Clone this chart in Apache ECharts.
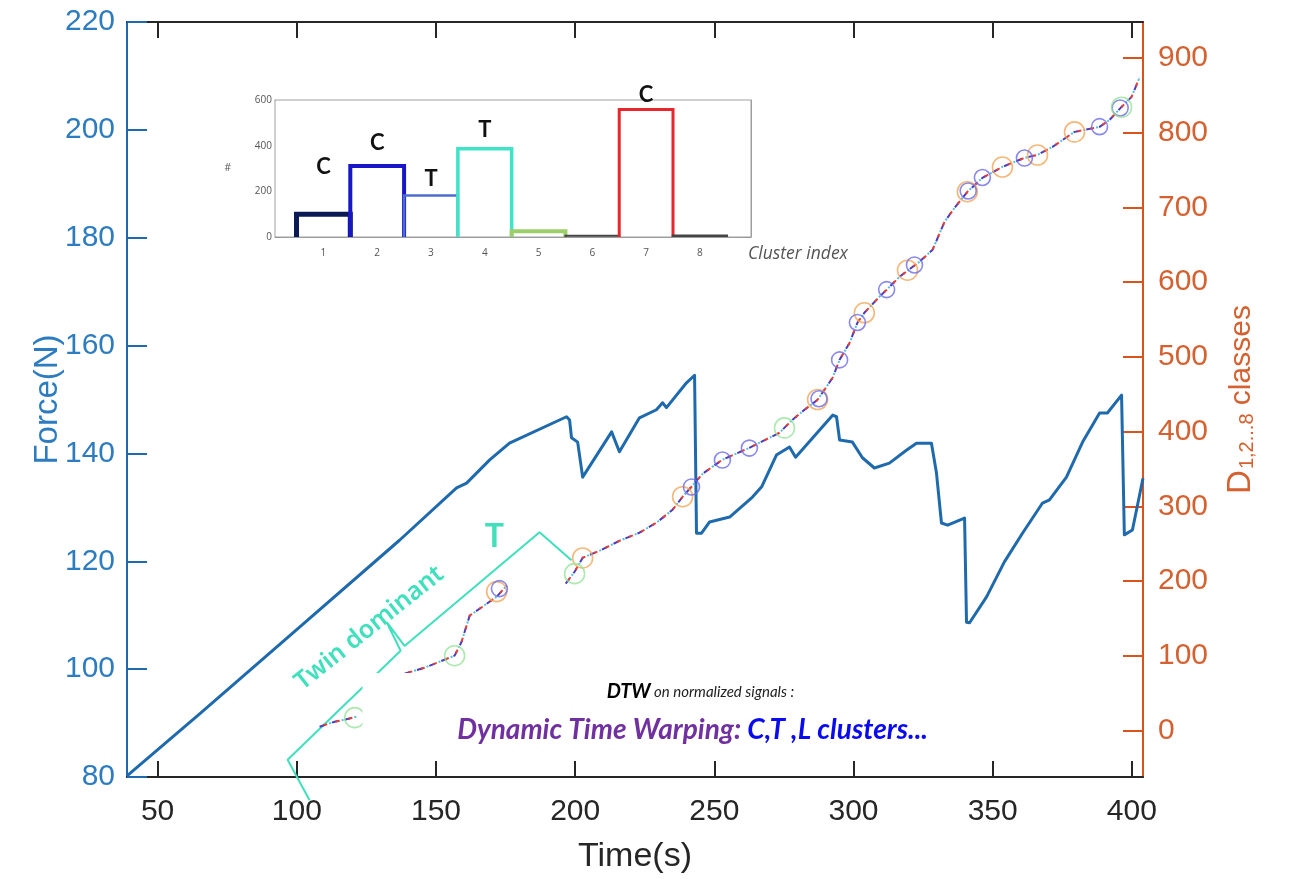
<!DOCTYPE html>
<html>
<head>
<meta charset="utf-8">
<script src="https://cdn.jsdelivr.net/npm/echarts@6/dist/echarts.min.js"></script>
<style>
  html, body { margin: 0; padding: 0; background: #fff; }
  #c { width: 1294px; height: 879px; }
</style>
</head>
<body>
<div id="c"></div>
<script>
// ---- Force trace: time (s) and force (N) ----
const forceT = [39, 65.1, 101.0, 136.9, 157.4, 161.0, 169.3, 176.4, 196.9, 198.0, 198.7, 200.9, 202.7,
  213.1, 215.9, 223.1, 229.2, 231.4, 232.8, 240.0, 242.9, 243.6, 245.4, 248.3, 255.5, 263.7, 267.0,
  272.3, 277.0, 279.2, 292.5, 293.9, 295.0, 299.6, 303.2, 307.5, 312.9, 319.0, 322.6, 328.0, 329.8,
  331.6, 333.8, 339.9, 340.6, 341.7, 347.8, 354.2, 360.7, 367.9, 370.4, 376.5, 382.3, 388.4, 391.2,
  396.3, 397.3, 400.2, 404];
const forceN = [80.2, 91.7, 107.8, 123.9, 133.6, 134.5, 138.8, 141.9, 146.8, 146.2, 142.9, 142.1, 135.6,
  144.0, 140.3, 146.6, 148.1, 149.4, 148.5, 153.1, 154.5, 125.2, 125.2, 127.3, 128.2, 131.9, 133.8,
  139.7, 141.2, 139.3, 147.1, 146.8, 142.5, 142.1, 139.2, 137.3, 138.2, 140.6, 141.9, 141.9, 136.4,
  127.1, 126.7, 128.0, 108.7, 108.6, 113.4, 119.9, 125.2, 130.8, 131.4, 135.6, 142.1, 147.5, 147.5,
  150.8, 124.9, 125.8, 135.4];

// ---- DTW class distance D, three visible pieces ----
const dSegA_T = [108.2, 113.6, 117.2, 121.5];
const dSegA_V = [5.3, 12.0, 14.7, 18.7];
const dSegB_T = [138.7, 145.9, 151.3, 156.7, 159.2, 162.1, 166.7, 171.8, 175.4];
const dSegB_V = [76.2, 84.2, 92.3, 100.3, 119.0, 153.8, 165.8, 179.2, 193.9];
const dSegC_T = [196.6, 199.8, 202.7, 208.8, 216.0, 223.1, 229.2, 235.0, 238.6, 241.8, 245.8, 252.9,
  262.6, 273.4, 278.1, 282.4, 287.1, 292.5, 295.0, 298.6, 301.4, 303.9, 309.3, 311.9, 316.5, 320.8,
  323.7, 328.4, 332.7, 336.3, 340.9, 346.3, 353.5, 361.4, 366.1, 371.5, 379.4, 388.4, 392.0, 396.3,
  399.9, 402.7];
const dSegC_V = [196.6, 212.6, 231.3, 240.7, 254.1, 264.8, 278.1, 295.5, 312.9, 326.3, 343.7, 362.4,
  378.4, 398.5, 415.9, 429.3, 442.6, 472.1, 496.1, 518.9, 545.6, 559.0, 580.4, 589.7, 607.1, 619.2,
  627.2, 643.2, 680.7, 699.4, 720.8, 739.5, 754.2, 766.2, 770.3, 781.0, 801.0, 807.7, 817.1, 834.4,
  847.8, 873.2];

// ---- Cluster rings on the D curve: time, D, class (0 orange, 1 blue, 2 green) ----
const ringT = [120.8, 156.7, 171.8, 172.8, 199.8, 202.7, 238.6, 241.8, 252.9, 262.6, 275.2, 287.1, 287.6,
  295.0, 301.4, 303.9, 311.9, 319.4, 321.9, 340.9, 341.2, 346.3, 353.5, 361.4, 366.1, 379.4, 388.4,
  396.3, 395.8];
const ringD = [17.4, 100.3, 186, 190, 210, 231, 313, 326, 362, 378, 405, 443, 444,
  496, 546, 559, 590, 616, 623, 721, 722, 740, 754, 766, 770, 801, 808,
  834, 833];
const ringClass = [2, 2, 0, 1, 2, 0, 0, 1, 1, 1, 2, 0, 1,
  1, 1, 0, 1, 0, 1, 0, 1, 1, 0, 1, 0, 0, 1,
  2, 1];

// ---- Inset histogram: members per cluster ----
const clusterIdx = [1, 2, 3, 4, 5, 6, 7, 8];
const clusterCount = [100, 311, 182, 387, 25, 5, 558, 5];
const clusterTag = ['C', 'C', 'T', 'T', '', '', 'C', ''];

// ---- Tick labels ----
const timeTicks = [50, 100, 150, 200, 250, 300, 350, 400];
const dTicks = [0, 100, 200, 300, 400, 500, 600, 700, 800, 900];
const clusterTicks = [1, 2, 3, 4, 5, 6, 7, 8];

// ---- Twin-dominant brace, in (time, force) units ----
const braceT = [104.6, 96.7, 137.3, 132.3, 138.7, 187.2, 198.7];
const braceF = [75.7, 83.2, 103.4, 108.7, 104.3, 125.4, 120.2];

// ---- styles ----
const INK = '#262626';
const BLUE_LINE = '#1f6aad';
const BLUE_TXT = '#2e7cc0';
const ORANGE_LINE = '#d9531c';
const ORANGE_TXT = '#d4612f';
const TEAL = '#40e0bd';
const ringColors = ['#f2a65a', '#6b6be6', '#97e39a'];
const ringSizes = [20, 16, 20];
const barColors = ['#0b1a55', '#1717c8', '#4d6cd2', '#3fe3c8', '#9ccf6a', '#444444', '#e8262e', '#444444'];
const barWidths = [5, 4, 2.5, 3.5, 4, 2, 3, 2.5];
const tagLift = [47, 23, 17, 19, 0, 0, 15, 0];

const pair = (a, b) => a.map((v, i) => [v, b[i]]);
const AXIS_FONT = 'Liberation Sans, Arial, sans-serif';
const NOTE_FONT = 'Lato, Open Sans, sans-serif';

// dash-dot multicolour look for the D curve: three dashed layers interleaved
const dashLayers = [
  { color: '#4a3cc0', dash: [6, 7], offset: 0 },
  { color: '#e0403a', dash: [4, 9], offset: 9 },
  { color: '#52c0e0', dash: [2, 11], offset: 3 }
];
const dSegments = [pair(dSegA_T, dSegA_V), pair(dSegB_T, dSegB_V), pair(dSegC_T, dSegC_V)];
const dSeries = [];
dSegments.forEach(seg => {
  dashLayers.forEach(layer => {
    dSeries.push({
      type: 'line', xAxisIndex: 0, yAxisIndex: 1, data: seg,
      showSymbol: false, silent: true, z: 4,
      lineStyle: { color: layer.color, width: 2, type: layer.dash, dashOffset: layer.offset }
    });
  });
});

const ringSeries = [0, 1, 2].map(c => ({
  type: 'scatter', xAxisIndex: 0, yAxisIndex: 1, z: 5,
  symbol: 'circle', symbolSize: ringSizes[c],
  itemStyle: { color: 'rgba(0,0,0,0)', borderColor: ringColors[c], borderWidth: 1.6 },
  data: ringT.map((t, i) => [t, ringD[i], ringClass[i]]).filter(d => d[2] === c)
}));

const option = {
  animation: false,
  backgroundColor: '#fff',
  grid: [
    { left: 127, right: 151, top: 22, bottom: 102, containLabel: false, outerBoundsMode: 'none' },
    { left: 275, top: 100, width: 476, height: 137, containLabel: false, outerBoundsMode: 'none',
      show: true, backgroundColor: '#fff', borderColor: '#a0a0a0', borderWidth: 1, z: 1 }
  ],
  xAxis: [
    { // time, bottom
      type: 'value', gridIndex: 0, position: 'bottom', min: 39, max: 404,
      splitLine: { show: false },
      axisLine: { onZero: false, lineStyle: { color: INK, width: 2 } },
      axisTick: { inside: true, length: 16, customValues: timeTicks, lineStyle: { color: INK, width: 2 } },
      axisLabel: { customValues: timeTicks, fontSize: 30, color: INK, margin: 20, fontFamily: AXIS_FONT },
      name: 'Time(s)', nameLocation: 'middle', nameGap: 63, nameMoveOverlap: false,
      nameTextStyle: { fontSize: 34, color: INK, fontFamily: AXIS_FONT }
    },
    { // time, top frame
      type: 'value', gridIndex: 0, position: 'top', min: 39, max: 404,
      splitLine: { show: false },
      axisLine: { onZero: false, lineStyle: { color: INK, width: 2 } },
      axisTick: { inside: true, length: 16, customValues: timeTicks, lineStyle: { color: INK, width: 2 } },
      axisLabel: { show: false }
    },
    { // cluster index, inset bottom
      type: 'value', gridIndex: 1, position: 'bottom', min: 0.1, max: 8.95,
      splitLine: { show: false },
      axisLine: { onZero: false, lineStyle: { color: '#9a9a9a', width: 1 } },
      axisTick: { inside: true, length: 5, customValues: clusterTicks, lineStyle: { color: '#888' } },
      axisLabel: { customValues: clusterTicks, fontSize: 10, color: '#555', margin: 11, fontFamily: 'Open Sans, sans-serif' },
      name: 'Cluster index', nameLocation: 'end', nameGap: -3, nameMoveOverlap: false,
      nameTextStyle: { fontSize: 17.5, fontStyle: 'italic', color: '#555', align: 'left', verticalAlign: 'top',
        padding: [8, 0, 0, 0], fontFamily: 'Open Sans, sans-serif' }
    },
    { // inset top frame
      type: 'value', gridIndex: 1, position: 'top', min: 0.1, max: 8.95,
      splitLine: { show: false },
      axisLine: { onZero: false, lineStyle: { color: '#9a9a9a', width: 1 } },
      axisTick: { inside: true, length: 5, customValues: clusterTicks, lineStyle: { color: '#888' } },
      axisLabel: { show: false }
    }
  ],
  yAxis: [
    { // force, left
      type: 'value', gridIndex: 0, position: 'left', min: 80, max: 220, interval: 20,
      splitLine: { show: false },
      axisLine: { onZero: false, lineStyle: { color: BLUE_LINE, width: 2 } },
      axisTick: { inside: true, length: 20, lineStyle: { color: BLUE_LINE, width: 2 } },
      axisLabel: { fontSize: 30, color: BLUE_TXT, margin: 12, fontFamily: AXIS_FONT },
      name: 'Force(N)', nameLocation: 'middle', nameGap: 63, nameRotate: 90, nameMoveOverlap: false,
      nameTextStyle: { fontSize: 33, color: BLUE_TXT, fontFamily: AXIS_FONT }
    },
    { // D classes, right
      type: 'value', gridIndex: 0, position: 'right', min: -62, max: 948,
      splitLine: { show: false },
      axisLine: { onZero: false, lineStyle: { color: ORANGE_LINE, width: 2 } },
      axisTick: { inside: true, length: 20, customValues: dTicks, lineStyle: { color: ORANGE_LINE, width: 2 } },
      axisLabel: { customValues: dTicks, fontSize: 30, color: ORANGE_TXT, margin: 15, fontFamily: AXIS_FONT },
      name: '{d|D}{s|1,2...8}{c| classes}', nameLocation: 'middle', nameGap: 78, nameRotate: 90,
      nameTextStyle: {
        color: ORANGE_TXT, fontFamily: AXIS_FONT,
        rich: {
          d: { fontSize: 33, color: ORANGE_TXT, fontFamily: AXIS_FONT, lineHeight: 36, verticalAlign: 'bottom' },
          s: { fontSize: 20, color: ORANGE_TXT, fontFamily: AXIS_FONT, lineHeight: 18, verticalAlign: 'bottom', padding: [0, 0, 0, 1] },
          c: { fontSize: 30, color: ORANGE_TXT, fontFamily: AXIS_FONT, lineHeight: 34, verticalAlign: 'bottom' }
        }
      }
    },
    { // inset count axis
      type: 'value', gridIndex: 1, position: 'left', min: 0, max: 600, interval: 200,
      splitLine: { show: false },
      axisLine: { onZero: false, lineStyle: { color: '#9a9a9a', width: 1 } },
      axisTick: { inside: true, length: 5, lineStyle: { color: '#888' } },
      axisLabel: { fontSize: 10, color: '#555', margin: 3, fontFamily: 'Open Sans, sans-serif' },
      name: '#', nameLocation: 'middle', nameGap: 44, nameRotate: 0, nameMoveOverlap: false,
      nameTextStyle: { fontSize: 10, color: '#555', fontFamily: 'Open Sans, sans-serif', padding: [14, 0, 0, 0] }
    },
    { // inset right frame
      type: 'value', gridIndex: 1, position: 'right', min: 0, max: 600, interval: 200,
      splitLine: { show: false },
      axisLine: { onZero: false, lineStyle: { color: '#9a9a9a', width: 1 } },
      axisTick: { inside: true, length: 5, lineStyle: { color: '#888' } },
      axisLabel: { show: false }
    }
  ],
  series: [
    {
      type: 'line', xAxisIndex: 0, yAxisIndex: 0, data: pair(braceT, braceF),
      showSymbol: false, silent: true, clip: false, z: 2,
      lineStyle: { color: TEAL, width: 2 }
    },
    {
      type: 'line', xAxisIndex: 0, yAxisIndex: 0, data: pair(forceT, forceN),
      showSymbol: false, z: 3,
      lineStyle: { color: BLUE_LINE, width: 3, join: 'round' }
    },
    ...dSeries,
    ...ringSeries,
    {
      type: 'custom', xAxisIndex: 2, yAxisIndex: 2, z: 6, clip: false,
      data: clusterIdx.map((k, i) => [k, clusterCount[i]]),
      renderItem(params, api) {
        const i = params.dataIndex;
        const x = api.value(0), v = api.value(1);
        const bl = api.coord([x - 0.5, 0]);
        const tr = api.coord([x + 0.5, v]);
        const children = [{
          type: 'polyline',
          shape: { points: [[bl[0], bl[1]], [bl[0], tr[1]], [tr[0], tr[1]], [tr[0], bl[1]]] },
          style: { stroke: barColors[i], lineWidth: barWidths[i], fill: 'none' }
        }];
        if (clusterTag[i]) {
          children.push({
            type: 'text',
            style: {
              text: clusterTag[i], x: (bl[0] + tr[0]) / 2, y: tr[1] - tagLift[i],
              align: 'center', verticalAlign: 'middle',
              fontSize: 22, fontWeight: 'bold', fontFamily: NOTE_FONT, fill: '#111'
            }
          });
        }
        return { type: 'group', children };
      }
    }
  ]
};

const chart = echarts.init(document.getElementById('c'));
chart.setOption(option);

// annotation layer, anchored in (time, force) units
const px = (t, f) => chart.convertToPixel({ xAxisIndex: 0, yAxisIndex: 0 }, [t, f]);
const boxTL = px(123.6, 99.3);
const boxBR = px(338.1, 86.2);
const line1 = px(245.0, 95.8);
const line2 = px(242.2, 88.8);
const twinAt = px(126.1, 107.6);
const tAt = px(171.0, 124.5);

chart.setOption({
  graphic: [
    {
      type: 'rect', z: 50,
      shape: { x: boxTL[0], y: boxTL[1], width: boxBR[0] - boxTL[0], height: boxBR[1] - boxTL[1] },
      style: { fill: '#ffffff' }
    },
    {
      type: 'text', z: 51, x: line1[0], y: line1[1],
      style: {
        text: '{b|DTW} {s|on normalized signals :}', align: 'center', verticalAlign: 'middle',
        rich: {
          b: { fontSize: 20, fontWeight: 'bold', fontStyle: 'italic', fill: '#000', fontFamily: NOTE_FONT },
          s: { fontSize: 15, fontStyle: 'italic', fill: '#222', fontFamily: NOTE_FONT }
        }
      }
    },
    {
      type: 'text', z: 51, x: line2[0], y: line2[1],
      style: {
        text: '{p|Dynamic Time Warping: }{q|C,T ,L clusters...}', align: 'center', verticalAlign: 'middle',
        rich: {
          p: { fontSize: 28, fontWeight: 'bold', fontStyle: 'italic', fill: '#7030a0', fontFamily: NOTE_FONT },
          q: { fontSize: 28, fontWeight: 'bold', fontStyle: 'italic', fill: '#0a0af0', fontFamily: NOTE_FONT }
        }
      }
    },
    {
      type: 'text', z: 51, x: twinAt[0], y: twinAt[1], rotation: 0.675,
      style: {
        text: 'Twin dominant', align: 'center', verticalAlign: 'middle',
        fontSize: 25, fontWeight: 600, fill: TEAL, fontFamily: 'Noto Sans, Open Sans, sans-serif'
      }
    },
    {
      type: 'text', z: 51, x: tAt[0], y: tAt[1],
      style: {
        text: 'T', align: 'center', verticalAlign: 'middle',
        fontSize: 32, fontWeight: 'bold', fill: TEAL, fontFamily: NOTE_FONT
      }
    }
  ]
});
</script>
</body>
</html>
